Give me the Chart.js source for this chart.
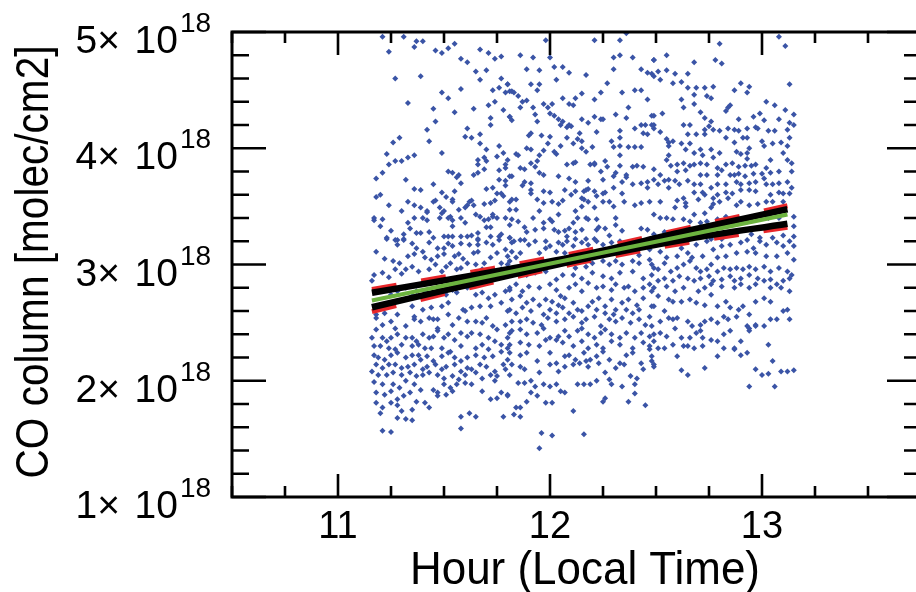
<!DOCTYPE html>
<html>
<head>
<meta charset="utf-8">
<script src="https://cdn.jsdelivr.net/npm/chart.js@4"></script>
<style>
html,body{margin:0;padding:0;overflow:hidden;background:#fff;width:916px;height:592px}
canvas{display:block}
</style>
</head>
<body>
<canvas id="c" width="930" height="592"></canvas>
<script>
// ---- Data (x: hour local time, y: CO column in units of 1e18 molec/cm2) ----
const pointsX = [
11.21,11.31,11.24,11.37,11.40,11.36,11.46,11.49,11.52,11.55,11.67,11.71,11.74,11.77,11.58,11.61,11.27,11.39,11.65,11.70,11.67,11.77,11.80,11.73,11.76,11.79,11.81,11.49,11.52,11.58,11.33,11.45,11.55,11.64,11.71,11.74,11.78,11.72,11.81,11.72,11.46,11.61,11.60,11.63,11.67,11.67,11.42,11.43,11.29,11.26,11.23,11.27,11.30,11.24,11.33,11.36,11.49,11.70,11.76,11.75,11.78,11.66,11.69,11.70,11.66,11.21,11.18,11.32,11.52,11.54,11.57,11.56,11.45,11.58,11.64,11.66,11.69,11.76,11.79,11.79,11.81,11.76,11.79,11.70,11.73,11.75,11.77,11.78,11.81,11.36,11.39,11.49,11.55,11.51,11.54,11.54,11.18,11.20,11.24,11.30,11.33,11.36,11.39,11.42,11.45,11.46,11.48,11.50,11.52,11.53,11.54,11.57,11.60,11.61,11.62,11.63,11.64,11.65,11.67,11.69,11.72,11.74,11.71,11.73,11.73,11.75,11.79,11.81,11.17,11.17,11.21,11.20,11.25,11.28,11.23,11.33,11.34,11.36,11.40,11.42,11.42,11.37,11.39,11.43,11.31,11.31,11.45,11.50,11.52,11.54,11.54,11.58,11.58,11.60,11.61,11.63,11.66,11.66,11.69,11.70,11.72,11.72,11.76,11.77,11.81,11.48,11.49,
11.98,12.21,12.33,12.36,11.86,11.92,12.00,11.95,11.89,12.02,12.06,12.09,12.17,12.30,12.33,12.39,12.30,12.43,12.46,12.48,12.49,11.80,11.82,11.83,11.85,11.91,11.94,11.95,12.03,12.27,12.34,12.40,12.43,12.46,12.24,12.21,12.15,12.12,12.09,12.11,12.06,11.97,11.99,12.01,11.87,11.86,11.89,11.92,11.81,11.82,11.94,11.93,12.00,12.02,12.04,12.06,12.05,12.08,12.09,12.15,12.18,12.21,12.24,12.25,12.31,12.37,12.36,12.48,12.40,12.43,12.45,12.48,12.44,12.46,12.33,12.33,12.29,12.22,12.14,12.13,12.11,12.15,12.15,12.17,12.20,12.08,12.10,11.96,12.00,11.99,11.95,11.97,12.02,12.03,12.05,11.91,11.90,11.89,11.91,11.84,11.85,11.80,11.79,11.86,11.88,11.91,11.94,11.93,11.95,11.97,12.04,12.08,12.11,12.12,12.09,12.12,12.18,12.19,12.21,12.21,12.24,12.25,12.27,12.26,12.30,12.33,12.33,12.37,12.40,12.43,12.39,12.41,12.44,12.30,12.31,12.34,12.36,12.33,12.36,11.82,11.88,11.87,11.91,11.91,11.82,11.84,11.84,11.91,11.94,11.97,12.00,11.97,12.01,12.04,12.06,12.07,12.10,12.12,12.15,12.16,12.17,12.18,12.21,12.25,12.26,12.30,12.34,12.39,12.43,12.46,12.46,12.47,12.43,12.40,12.35,12.30,12.28,12.25,12.22,12.21,12.18,12.16,12.15,12.12,12.13,12.17,12.18,12.22,12.04,12.00,12.01,11.97,11.95,11.92,11.82,11.85,11.81,11.81,11.83,11.88,11.89,11.93,11.97,12.02,12.04,12.07,12.09,12.11,12.12,12.15,12.22,12.23,12.26,12.31,12.31,12.34,12.43,12.46,12.49,12.28,12.21,12.17,12.12,12.08,11.98,11.88,
12.80,13.08,13.11,12.55,12.49,12.68,12.78,12.81,12.51,12.49,12.55,12.59,12.62,12.65,12.58,12.52,12.65,12.69,12.73,12.77,12.74,12.76,12.87,12.90,12.94,12.93,13.13,12.68,12.68,12.62,12.63,12.53,12.49,12.71,12.73,12.76,12.83,12.85,12.84,12.89,12.96,12.99,13.02,13.06,13.11,13.08,13.15,13.13,13.15,12.49,12.49,12.52,12.63,12.66,12.65,12.69,12.73,12.73,12.75,12.77,12.80,12.84,12.87,12.89,12.93,12.97,12.98,13.01,13.03,13.06,13.12,13.13,12.55,12.56,12.58,12.56,12.56,12.55,12.62,12.64,12.66,12.68,12.71,12.72,12.76,12.77,12.80,12.83,12.87,12.91,12.93,12.88,12.90,12.93,12.93,12.94,13.00,13.01,13.05,13.09,13.12,13.10,13.12,13.14,13.04,13.02,12.97,12.95,12.92,12.89,12.86,12.83,12.81,12.79,12.74,12.71,12.68,12.66,12.63,12.60,12.57,12.60,12.64,12.71,12.74,12.79,12.85,12.87,12.89,12.92,12.96,13.00,13.04,13.08,13.14,12.49,12.52,12.49,12.51,12.54,12.56,12.56,12.59,12.61,12.65,12.68,12.71,12.68,12.72,12.76,12.79,12.83,12.88,12.90,12.94,12.97,13.01,13.02,13.05,13.08,13.12,13.14,13.13,13.10,13.08,13.04,12.97,12.94,12.90,12.86,12.83,12.79,12.77,12.73,12.70,12.63,12.60,12.59,12.64,12.64,12.68,12.73,12.76,12.77,12.80,12.84,12.88,12.90,12.94,12.98,13.02,13.05,13.10,12.52,12.52,12.49,12.55,12.58,12.63,12.66,12.71,12.74,12.79,12.83,12.87,12.93,12.97,13.03,13.08,13.15,13.15,12.49,12.54,12.57,12.61,12.67,12.72,12.76,12.81,12.95,12.99,13.05,13.10,13.15,
11.23,11.27,11.31,11.28,11.35,11.37,11.40,11.43,11.47,11.50,11.52,11.54,11.58,11.62,11.66,11.70,11.73,11.76,11.79,11.75,11.80,11.18,11.22,11.26,11.29,11.32,11.33,11.36,11.41,11.44,11.47,11.50,11.53,11.55,11.57,11.59,11.61,11.64,11.66,11.69,11.72,11.77,11.66,11.17,11.21,11.24,11.27,11.30,11.35,11.38,11.43,11.46,11.49,11.51,11.56,11.58,11.65,11.68,11.73,11.77,11.80,11.16,11.25,11.28,11.32,11.35,11.37,11.41,11.43,11.47,11.51,11.54,11.56,11.58,11.61,11.65,11.68,11.71,11.74,11.79,11.81,11.21,11.25,11.35,11.40,11.44,11.49,11.52,11.59,11.63,11.67,11.72,11.77,11.80,11.18,11.22,11.28,11.18,11.21,11.25,11.27,11.32,11.36,11.36,11.39,11.43,11.45,11.47,11.47,11.52,11.54,11.57,11.60,11.61,11.65,11.68,11.70,11.73,11.75,11.79,11.81,11.18,11.16,11.21,11.23,11.25,11.28,11.32,11.35,11.37,11.40,11.43,11.45,11.47,11.50,11.52,11.55,11.58,11.61,11.63,11.67,11.71,11.74,11.77,11.80,11.17,11.20,11.24,11.27,11.30,11.35,11.38,11.41,11.44,11.49,11.53,11.58,11.65,11.68,11.71,11.77,11.80,11.17,11.19,11.22,11.25,11.28,11.32,11.35,11.38,11.39,11.42,11.45,11.49,11.52,11.55,11.58,11.61,11.65,11.69,11.73,11.78,11.80,11.18,11.21,11.24,11.27,11.30,11.33,11.36,11.40,11.42,11.46,11.49,11.51,11.55,11.58,11.61,11.63,11.67,11.70,11.74,11.79,11.16,11.19,11.23,11.26,11.30,11.34,11.37,11.40,11.43,11.47,11.50,11.54,11.57,11.60,11.65,11.68,11.72,11.75,11.81,11.17,11.21,11.26,11.29,11.32,11.36,11.39,11.45,11.47,11.50,11.53,11.56,11.60,11.63,11.68,11.74,11.77,11.80,11.18,11.22,11.25,11.28,11.31,11.34,11.37,11.41,11.43,11.47,11.51,11.54,11.72,11.75,11.18,11.21,11.25,11.28,11.30,11.35,11.62,11.65,11.78,11.20,11.28,11.32,11.35,11.58,11.21,11.25,11.58,
11.82,11.86,11.90,11.93,12.00,12.04,12.06,12.08,12.11,12.15,12.18,12.22,12.25,12.29,12.33,12.37,12.40,12.45,12.48,11.82,11.86,11.95,11.98,12.03,12.07,12.15,12.26,12.31,12.42,12.47,11.81,11.84,12.01,12.06,12.09,12.12,12.17,12.20,12.25,12.28,12.31,12.34,12.39,12.42,12.47,12.49,11.82,11.89,11.93,11.98,12.03,12.06,12.11,12.15,12.20,12.25,12.29,12.33,12.39,12.44,12.48,11.81,11.84,11.87,11.90,11.95,12.00,12.03,12.05,12.09,12.12,12.15,12.18,12.22,12.25,12.29,12.31,12.35,12.37,12.40,12.44,12.47,12.48,11.82,11.86,11.89,11.92,11.95,11.98,12.01,12.04,12.07,12.11,12.13,12.18,12.20,12.23,12.26,12.29,12.31,12.34,12.37,12.41,12.44,12.48,11.81,11.84,11.87,11.91,11.97,12.00,12.03,12.06,12.09,12.15,12.22,12.26,12.30,12.36,12.39,12.42,12.47,11.82,11.86,11.89,11.92,11.96,11.99,12.03,12.07,12.11,12.15,12.17,12.21,12.24,12.28,12.31,12.34,12.38,12.42,12.45,12.48,11.82,11.86,11.89,11.94,11.97,12.00,12.04,12.07,12.09,12.13,12.15,12.18,12.21,12.24,12.26,12.29,12.33,12.36,12.40,12.43,12.47,12.49,11.81,11.86,11.90,11.95,11.98,12.03,12.06,12.11,12.15,12.18,12.22,12.25,12.29,12.33,12.39,12.44,12.47,11.81,11.86,11.89,11.94,12.00,12.03,12.07,12.09,12.12,12.16,12.19,12.22,12.25,12.28,12.33,12.36,12.39,12.43,12.48,11.82,11.86,11.88,11.95,12.00,12.04,12.07,12.11,12.14,12.17,12.18,12.23,12.26,12.31,12.35,12.38,12.41,12.44,12.49,11.85,11.88,11.91,11.93,11.97,12.00,12.03,12.05,12.07,12.13,12.16,12.19,12.22,12.28,12.29,12.34,12.40,11.80,11.91,11.94,11.89,11.98,12.01,12.11,11.84,11.86,11.83,12.26,12.25,12.37,12.45,12.40,11.96,12.01,12.16,11.95,11.86,
12.49,12.52,12.57,12.62,12.65,12.69,12.74,12.77,12.81,12.85,12.90,12.93,12.96,12.99,13.02,13.07,13.10,13.13,13.15,12.55,12.60,12.67,12.72,12.79,12.83,12.88,12.93,12.97,13.02,13.07,13.12,13.15,12.48,12.51,12.54,12.57,12.60,12.63,12.66,12.69,12.71,12.74,12.76,12.79,12.82,12.85,12.88,12.91,12.94,12.97,13.01,13.04,13.08,13.12,13.14,12.51,12.54,12.58,12.61,12.65,12.68,12.71,12.75,12.77,12.81,12.85,12.87,12.90,12.94,12.98,13.01,13.04,13.07,13.10,13.13,12.49,12.55,12.59,12.63,12.70,12.73,12.76,12.81,12.87,12.90,12.94,12.97,13.04,13.09,13.13,12.51,12.56,12.58,12.62,12.66,12.69,12.73,12.76,12.79,12.83,12.85,12.89,12.91,12.94,12.97,13.01,13.04,13.10,13.12,12.49,12.54,12.60,12.58,12.65,12.67,12.71,12.73,12.76,12.79,12.82,12.84,12.88,12.93,12.94,12.97,13.01,13.04,13.07,13.13,12.52,12.56,12.49,12.52,12.55,12.59,12.62,12.66,12.69,12.71,12.72,12.76,12.79,12.82,12.85,12.87,12.90,12.94,12.97,13.03,12.47,12.51,12.54,12.58,12.60,12.63,12.65,12.68,12.72,12.79,12.82,12.87,12.90,12.93,12.49,12.48,13.05,12.62,12.65,12.73,12.97,13.00,13.03,13.09,13.12,13.15,12.94,13.06
];
const pointsY = [
4.96,4.96,4.83,4.92,4.92,4.87,4.84,4.82,4.86,4.90,4.85,4.82,4.77,4.79,4.77,4.74,4.60,4.62,4.66,4.67,4.59,4.60,4.55,4.50,4.52,4.48,4.49,4.48,4.43,4.51,4.39,4.34,4.31,4.34,4.37,4.40,4.33,4.26,4.27,4.20,4.23,4.17,4.10,4.09,4.12,4.04,4.16,4.06,4.09,4.05,3.95,3.89,3.89,3.86,3.92,3.94,3.96,3.99,4.02,3.93,3.96,3.90,3.92,3.89,3.86,3.79,3.74,3.73,3.80,3.79,3.77,3.75,3.69,3.70,3.77,3.79,3.82,3.81,3.83,3.72,3.76,3.73,3.68,3.65,3.66,3.61,3.61,3.59,3.54,3.65,3.64,3.62,3.63,3.58,3.56,3.54,3.58,3.60,3.51,3.46,3.54,3.51,3.49,3.46,3.54,3.55,3.49,3.46,3.40,3.41,3.38,3.47,3.49,3.51,3.54,3.55,3.51,3.43,3.41,3.52,3.53,3.55,3.39,3.41,3.43,3.40,3.40,3.47,3.40,3.38,3.39,3.33,3.29,3.21,3.23,3.36,3.31,3.40,3.40,3.38,3.45,3.27,3.27,3.28,3.26,3.22,3.23,3.24,3.24,3.24,3.33,3.24,3.40,3.36,3.24,3.25,3.27,3.22,3.38,3.32,3.32,3.24,3.24,3.26,3.23,3.40,3.44,
4.93,4.93,4.93,4.99,4.80,4.78,4.78,4.67,4.68,4.70,4.70,4.65,4.63,4.78,4.80,4.78,4.68,4.68,4.65,4.64,4.76,4.55,4.49,4.48,4.45,4.55,4.50,4.55,4.59,4.56,4.48,4.50,4.50,4.42,4.48,4.42,4.47,4.43,4.38,4.37,4.43,4.38,4.35,4.38,4.40,4.35,4.41,4.35,4.27,4.24,4.23,4.29,4.30,4.28,4.25,4.23,4.20,4.18,4.20,4.25,4.22,4.27,4.25,4.25,4.29,4.35,4.26,4.28,4.17,4.20,4.20,4.20,4.13,4.12,4.15,4.09,4.06,4.14,4.13,4.08,4.04,4.06,4.00,3.97,4.01,4.09,4.19,4.11,4.10,4.04,3.94,3.98,3.97,3.95,4.02,4.13,4.11,4.00,3.99,3.95,3.94,3.90,3.86,3.83,3.82,3.87,3.89,3.84,3.79,3.77,3.76,3.86,3.87,3.88,3.74,3.71,3.72,3.86,3.86,3.87,3.80,3.73,3.84,3.89,4.01,4.02,3.94,4.01,4.01,4.01,3.84,3.85,3.84,3.76,3.79,3.71,3.75,3.85,3.77,3.76,3.71,3.68,3.70,3.64,3.56,3.56,3.47,3.61,3.56,3.63,3.62,3.53,3.54,3.52,3.55,3.64,3.60,3.63,3.57,3.63,3.64,3.65,3.63,3.61,3.62,3.66,3.61,3.69,3.70,3.71,3.66,3.54,3.53,3.51,3.54,3.50,3.54,3.54,3.59,3.49,3.54,3.56,3.50,3.46,3.40,3.40,3.39,3.39,3.43,3.39,3.37,3.36,3.46,3.40,3.39,3.37,3.34,3.23,3.20,3.32,3.28,3.30,3.31,3.30,3.28,3.29,3.31,3.36,3.28,3.30,3.30,3.32,3.31,3.40,3.34,3.29,3.31,3.30,3.23,3.25,3.22,3.22,3.22,3.24,3.20,3.21,
4.90,4.96,4.88,4.80,4.76,4.74,4.76,4.73,4.66,4.62,4.67,4.64,4.57,4.64,4.56,4.59,4.52,4.52,4.52,4.53,4.45,4.43,4.50,4.56,4.53,4.48,4.55,4.46,4.38,4.42,4.35,4.30,4.28,4.31,4.26,4.23,4.32,4.37,4.35,4.25,4.27,4.30,4.40,4.37,4.33,4.25,4.29,4.22,4.20,4.20,4.17,4.14,4.20,4.20,4.12,4.12,4.12,4.16,4.19,4.16,4.15,4.17,4.16,4.15,4.17,4.18,4.17,4.24,4.15,4.15,4.16,4.09,4.08,4.05,4.06,4.02,3.94,3.90,4.04,3.99,4.04,3.96,3.99,3.94,3.99,3.92,3.96,4.09,4.05,4.09,4.09,3.97,3.95,3.96,3.91,4.00,4.06,4.02,4.04,4.05,4.02,3.96,3.90,3.87,3.90,3.83,3.86,3.85,3.85,3.84,3.87,3.86,3.81,3.83,3.86,3.87,3.86,3.85,3.87,3.86,3.85,3.80,3.81,3.77,3.77,3.77,3.77,3.77,3.78,3.76,3.78,3.78,3.79,3.80,3.80,3.82,3.77,3.73,3.69,3.72,3.73,3.66,3.72,3.69,3.72,3.69,3.69,3.62,3.62,3.66,3.69,3.69,3.71,3.69,3.70,3.71,3.74,3.69,3.69,3.70,3.71,3.66,3.61,3.61,3.62,3.60,3.63,3.64,3.64,3.61,3.62,3.60,3.57,3.60,3.56,3.57,3.55,3.49,3.53,3.50,3.43,3.44,3.49,3.52,3.54,3.57,3.51,3.54,3.51,3.52,3.54,3.54,3.54,3.54,3.40,3.43,3.40,3.39,3.39,3.37,3.36,3.37,3.39,3.41,3.37,3.37,3.41,3.40,3.40,3.41,3.33,3.26,3.28,3.26,3.24,3.26,3.25,3.22,3.22,3.26,3.23,3.23,3.25,3.24,
3.22,3.21,3.21,3.17,3.18,3.14,3.11,3.19,3.14,3.14,3.18,3.16,3.18,3.17,3.21,3.19,3.17,3.21,3.13,3.10,3.07,3.11,3.05,3.03,3.01,2.96,3.07,3.09,3.06,3.04,3.07,3.09,3.01,3.07,3.09,3.05,3.01,3.10,3.11,3.01,3.06,3.01,3.17,2.91,2.93,2.89,2.96,2.92,2.98,2.94,2.96,3.00,2.94,2.98,2.96,2.97,3.00,2.96,2.94,2.96,3.00,2.86,2.74,2.77,2.80,2.73,2.77,2.77,2.73,2.80,2.74,2.78,2.76,2.84,2.80,2.74,2.76,2.71,2.74,2.77,2.80,2.63,2.65,2.64,2.61,2.63,2.64,2.67,2.61,2.63,2.64,2.64,2.67,2.60,2.57,2.58,2.57,2.54,2.48,2.51,2.45,2.47,2.55,2.53,2.51,2.54,2.53,2.45,2.53,2.57,2.48,2.54,2.60,2.51,2.51,2.50,2.54,2.47,2.44,2.48,2.41,2.44,2.37,2.37,2.34,2.37,2.40,2.37,2.37,2.34,2.40,2.37,2.38,2.43,2.37,2.40,2.35,2.41,2.38,2.41,2.40,2.37,2.34,2.31,2.37,2.30,2.30,2.28,2.27,2.31,2.30,2.31,2.28,2.28,2.28,2.25,2.30,2.28,2.31,2.27,2.25,2.28,2.22,2.20,2.18,2.22,2.24,2.20,2.22,2.22,2.18,2.21,2.17,2.21,2.24,2.20,2.17,2.20,2.22,2.20,2.21,2.14,2.18,2.14,2.11,2.14,2.14,2.11,2.12,2.14,2.10,2.12,2.14,2.10,2.12,2.14,2.08,2.11,2.10,2.14,2.12,2.08,2.10,2.08,2.05,2.05,2.07,2.05,2.07,2.04,2.05,2.07,2.05,2.02,2.04,2.01,2.05,2.07,2.02,2.05,2.04,2.05,1.99,1.97,1.97,1.94,2.00,1.97,1.92,1.92,1.90,1.97,1.94,1.97,1.98,1.97,1.91,2.00,1.90,1.88,1.90,1.88,1.91,1.84,1.87,1.90,1.82,1.81,1.77,1.87,1.88,1.91,1.84,1.85,1.81,1.77,1.81,1.79,1.74,1.75,1.72,1.69,1.69,1.72,1.68,1.67,1.66,1.69,1.57,1.56,1.59,
3.19,3.21,3.17,3.20,3.16,3.19,3.17,3.20,3.16,3.19,3.17,3.20,3.17,3.19,3.20,3.19,3.17,3.20,3.17,3.11,3.10,3.10,3.14,3.11,3.10,3.08,3.13,3.11,3.08,3.13,3.03,3.06,3.03,3.04,3.01,2.97,2.98,3.01,3.03,3.00,3.03,3.00,3.03,3.01,3.04,2.97,2.94,2.91,2.93,2.94,2.87,2.91,2.91,2.88,2.93,2.90,2.88,2.93,2.94,2.88,2.91,2.78,2.83,2.77,2.81,2.80,2.83,2.78,2.73,2.80,2.83,2.77,2.84,2.80,2.81,2.78,2.83,2.80,2.81,2.77,2.80,2.83,2.77,2.70,2.73,2.67,2.70,2.65,2.70,2.68,2.65,2.71,2.67,2.61,2.64,2.68,2.71,2.64,2.70,2.61,2.67,2.70,2.65,2.71,2.64,2.61,2.58,2.63,2.60,2.57,2.61,2.58,2.63,2.58,2.60,2.61,2.58,2.57,2.61,2.58,2.61,2.55,2.51,2.51,2.53,2.50,2.48,2.54,2.51,2.53,2.55,2.50,2.53,2.55,2.47,2.53,2.51,2.54,2.50,2.53,2.48,2.47,2.43,2.44,2.40,2.41,2.45,2.37,2.38,2.43,2.38,2.43,2.45,2.40,2.37,2.41,2.44,2.40,2.37,2.41,2.37,2.41,2.38,2.34,2.31,2.33,2.31,2.30,2.35,2.35,2.33,2.30,2.34,2.28,2.31,2.28,2.34,2.31,2.28,2.33,2.27,2.24,2.22,2.24,2.17,2.24,2.15,2.21,2.22,2.18,2.24,2.18,2.21,2.25,2.18,2.15,2.22,2.24,2.15,2.21,2.14,2.12,2.10,2.07,2.14,2.08,2.12,2.14,2.15,2.17,2.12,2.15,2.07,2.11,2.14,2.04,2.02,2.10,2.12,1.98,1.98,2.00,1.95,1.97,1.95,1.97,1.91,1.90,1.97,1.97,1.97,2.00,2.01,1.97,1.95,1.97,1.87,1.90,1.87,1.82,1.81,1.81,1.74,1.77,1.77,1.71,1.85,1.82,1.82,1.79,1.89,1.55,1.53,1.54,1.42,1.69,
3.17,3.11,3.19,3.14,3.10,3.17,3.20,3.13,3.16,3.17,3.19,3.21,3.14,3.20,3.17,3.19,3.16,3.20,3.16,3.06,3.07,3.06,3.07,3.06,3.07,3.10,3.11,3.10,3.07,3.07,3.10,3.04,3.00,2.96,3.01,2.94,2.97,3.00,3.03,2.97,2.94,2.96,3.00,2.94,2.97,2.96,2.97,2.96,2.98,2.96,2.98,2.94,2.97,2.94,2.91,2.86,2.88,2.86,2.90,2.88,2.86,2.88,2.90,2.86,2.87,2.90,2.86,2.88,2.91,2.88,2.86,2.87,2.83,2.86,2.88,2.80,2.81,2.77,2.80,2.77,2.80,2.83,2.81,2.80,2.83,2.80,2.83,2.80,2.80,2.77,2.73,2.70,2.68,2.68,2.70,2.67,2.65,2.74,2.64,2.68,2.63,2.61,2.64,2.57,2.68,2.71,2.68,2.60,2.61,2.64,2.60,2.54,2.53,2.51,2.47,2.48,2.51,2.53,2.50,2.55,2.53,2.55,2.47,2.45,2.48,2.47,2.53,2.53,2.53,2.51,2.54,2.40,2.41,2.38,2.45,2.37,2.37,2.41,2.43,2.37,2.35,2.34,2.40,2.43,2.28,2.34,2.43,2.47,2.31,2.30,2.28,2.28,2.31,2.21,2.30,2.30,2.28,2.30,2.21,2.28,2.27,2.22,2.24,2.14,2.17,2.17,2.09,2.05,2.11,2.10,2.05,2.06,2.08,2.08,2.09,1.95,1.95
];

// regression line and bands (x in hours, y in 1e18)
const fitX   = [11.16, 13.12];
const fitY   = [2.69, 3.43];
const bandX  = [11.16, 11.65, 12.15, 12.65, 13.12];
const ciUp   = [2.757, 2.91, 3.08, 3.29, 3.475];
const ciLow  = [2.632, 2.84, 3.045, 3.22, 3.351];
const pbUp   = [2.785, 2.94, 3.11, 3.315, 3.505];
const pbLow  = [2.595, 2.813, 3.02, 3.19, 3.32];

// axis labels
const xTickValues = [11, 12, 13];
const xTickLabels = ['11', '12', '13'];
const yTickValues = [1, 2, 3, 4, 5];
const yTickMant   = ['1×', '2×', '3×', '4×', '5×'];
const yTickBase   = '10';
const yTickExp    = '18';
const xTitle = 'Hour (Local Time)';
const yTitle = 'CO column [molec/cm2]';

const scatterData = pointsX.map((x, i) => ({x: x, y: pointsY[i]}));
const toXY = (xs, ys) => xs.map((x, i) => ({x: x, y: ys[i]}));

const FONT = '"Liberation Sans", Arial, sans-serif';

const decor = {
  id: 'decor',
  afterDatasetsDraw(chart) {
    const ctx = chart.ctx, a = chart.chartArea;
    const xs = chart.scales.x, ys = chart.scales.y;
    ctx.save();
    ctx.strokeStyle = '#000';
    ctx.lineWidth = 3;
    ctx.lineCap = 'butt';
    // frame
    ctx.beginPath();
    ctx.moveTo(a.left, a.top); ctx.lineTo(a.right, a.top);
    ctx.lineTo(a.right, a.bottom); ctx.lineTo(a.left, a.bottom);
    ctx.closePath();
    ctx.stroke();
    // x ticks (every quarter hour)
    ctx.lineWidth = 2.6;
    for (let v = xs.min; v <= xs.max + 1e-6; v += 0.25) {
      const p = xs.getPixelForValue(v);
      const major = Math.abs(v - Math.round(v)) < 1e-6;
      const L = major ? 23 : 11;
      ctx.beginPath();
      ctx.moveTo(p, a.bottom); ctx.lineTo(p, a.bottom - L);
      ctx.moveTo(p, a.top); ctx.lineTo(p, a.top + L);
      ctx.stroke();
    }
    // y ticks (every 0.2e18)
    for (let k = 0; k <= 20; k++) {
      const v = ys.min + k * 0.2;
      const p = ys.getPixelForValue(v);
      const major = k % 5 === 0;
      const L = major ? 34 : 17;
      ctx.beginPath();
      ctx.moveTo(a.left, p); ctx.lineTo(a.left + L, p);
      ctx.moveTo(a.right, p); ctx.lineTo(a.right - L, p);
      ctx.stroke();
    }
    // x tick labels
    ctx.fillStyle = '#000';
    ctx.font = '38px ' + FONT;
    ctx.textAlign = 'center';
    ctx.textBaseline = 'alphabetic';
    xTickValues.forEach((v, i) => {
      ctx.fillText(xTickLabels[i], xs.getPixelForValue(v), a.bottom + 41);
    });
    // y tick labels with superscript
    yTickValues.forEach((v, i) => {
      const p = ys.getPixelForValue(v);
      ctx.font = '39px ' + FONT;
      ctx.textAlign = 'right';
      ctx.fillText(yTickBase, 178, p + 21);
      ctx.fillText(yTickMant[i], 120, p + 21);
      ctx.font = '28px ' + FONT;
      ctx.textAlign = 'left';
      ctx.fillText(yTickExp, 180, p);
    });
    // x title
    ctx.font = '46px ' + FONT;
    ctx.textAlign = 'center';
    const tw = ctx.measureText(xTitle).width;
    ctx.save();
    ctx.translate(585, 584);
    ctx.scale(350 / tw, 1);
    ctx.fillText(xTitle, 0, 0);
    ctx.restore();
    // y title (rotated, condensed)
    ctx.font = '47px ' + FONT;
    const yw = ctx.measureText(yTitle).width;
    ctx.save();
    ctx.translate(48, 262);
    ctx.rotate(-Math.PI / 2);
    ctx.scale(433 / yw, 1);
    ctx.textAlign = 'center';
    ctx.fillText(yTitle, 0, 0);
    ctx.restore();
    ctx.restore();
  }
};

new Chart(document.getElementById('c'), {
  type: 'scatter',
  data: {
    datasets: [
      {data: scatterData, pointStyle: 'rectRot', pointRadius: 3, pointBorderWidth: 0,
       backgroundColor: '#3a54a6', borderColor: '#3a54a6', order: 5},
      {data: toXY(bandX, pbUp), showLine: true, pointRadius: 0, borderColor: '#e8262a',
       borderWidth: 5, borderDash: [25, 25], cubicInterpolationMode: 'monotone', order: 4},
      {data: toXY(bandX, pbLow), showLine: true, pointRadius: 0, borderColor: '#e8262a',
       borderWidth: 5, borderDash: [25, 25], cubicInterpolationMode: 'monotone', order: 4},
      {data: toXY(bandX, ciUp), showLine: true, pointRadius: 0, borderColor: '#000',
       borderWidth: 6.5, cubicInterpolationMode: 'monotone', order: 3},
      {data: toXY(bandX, ciLow), showLine: true, pointRadius: 0, borderColor: '#000',
       borderWidth: 6.5, cubicInterpolationMode: 'monotone', order: 3},
      {data: toXY(fitX, fitY), showLine: true, pointRadius: 0, borderColor: '#6cb33f',
       borderWidth: 4, order: 1}
    ]
  },
  options: {
    responsive: false,
    animation: false,
    events: [],
    layout: {padding: {left: 232, right: 9, top: 32, bottom: 95}},
    plugins: {legend: {display: false}, tooltip: {enabled: false}},
    scales: {
      x: {type: 'linear', min: 10.5, max: 13.75, display: false},
      y: {type: 'linear', min: 1, max: 5, display: false}
    }
  },
  plugins: [decor]
});
</script>
</body>
</html>
